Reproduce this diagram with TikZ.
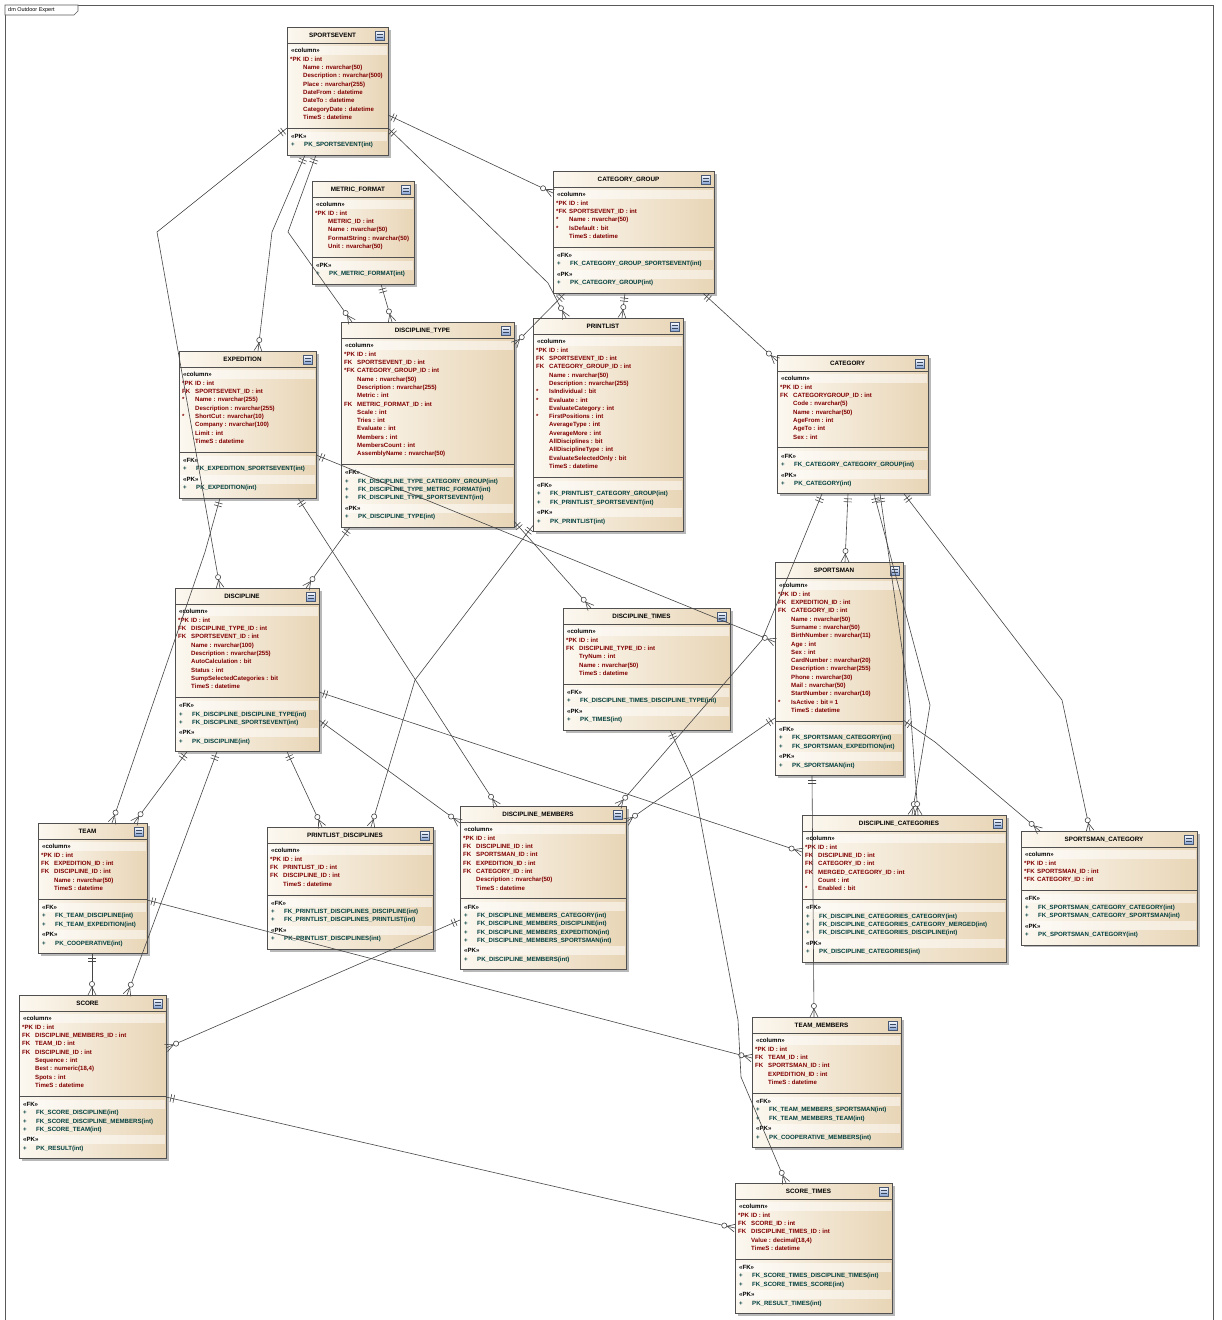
\documentclass[tikz,border=0pt]{standalone}
\usepackage{fontspec}
\setmainfont{Liberation Sans}
\usetikzlibrary{calc}

\definecolor{boxL}{RGB}{252,248,240}
\definecolor{boxR}{RGB}{232,213,182}
\definecolor{boxline}{RGB}{80,80,80}
\definecolor{coltext}{RGB}{128,0,0}
\definecolor{keytext}{RGB}{0,62,62}
\definecolor{relline}{RGB}{70,70,70}
\definecolor{iconB}{RGB}{130,160,210}

\tikzset{
  erbox/.style={rectangle, draw=boxline, line width=0.8pt, left color=boxL, right color=boxR, inner sep=0pt, outer sep=0pt},
  ershadow/.style={fill=black!28},
  erband/.style={fill=white, fill opacity=0.5},
  erline/.style={draw=boxline, line width=0.8pt},
  ertitle/.style={font=\fontsize{6.3}{7}\selectfont\bfseries, text=black, inner sep=0pt},
  erstereo/.style={font=\fontsize{6.1}{7}\selectfont\bfseries, text=black, anchor=base west, inner sep=0pt},
  ercol/.style={font=\fontsize{6.1}{7}\selectfont\bfseries, text=coltext, anchor=base west, inner sep=0pt},
  erkey/.style={font=\fontsize{6.1}{7}\selectfont\bfseries, text=keytext, anchor=base west, inner sep=0pt},
  ericon/.style={rectangle, draw=iconB!55!black, line width=0.4pt, top color=white, bottom color=iconB, minimum size=9pt, inner sep=0pt},
  rel/.style={draw=relline, line width=0.6pt},
  framel/.style={draw=black!65, line width=0.6pt},
  lbltext/.style={font=\fontsize{5.5}{6}\selectfont, text=black, inner sep=0pt},
}

% One table: #1 name, #2 x, #3 y, #4 width, #5 title,
% #6 columns {prefix}/{text}, #7 foreign keys, #8 primary keys
\newcommand\ertable[8]{%
  \def\erx{#2}\def\ery{#3}\def\erw{#4}%
  \gdef\erncol{0}%
  \foreach \erq in {#6}{\xdef\erncol{\the\numexpr\erncol+1\relax}}%
  \gdef\ernfk{0}%
  \def\erfk{#7}%
  \ifx\erfk\empty\else
    \foreach \erq in {#7}{\xdef\ernfk{\the\numexpr\ernfk+1\relax}}%
  \fi
  \pgfmathsetmacro\ersep{\ery+32+(\erncol-1)*8.3+11}%
  \ifnum\ernfk>0\relax
    \pgfmathsetmacro\erpk{\ersep+16.5+(\ernfk-1)*8.3+10.5}%
  \else
    \pgfmathsetmacro\erpk{\ersep+8}%
  \fi
  \pgfmathsetmacro\erh{\erpk+19-\ery}%
  \fill[ershadow] (\erx+2.5,\ery+2.5) rectangle ++(\erw,\erh);
  \node[erbox, minimum width=\erw pt, minimum height=\erh pt, anchor=north west] (#1) at (\erx,\ery) {};
  % header
  \draw[erline] (\erx,\ery+16) -- ++(\erw,0);
  \node[ertitle] (#1-t) at (\erx+\erw/2-5,\ery+8.5) {#5};
  \node[ericon] (#1-i) at (\erx+\erw-8,\ery+8.5) {};
  \draw[iconB!45!black, line width=0.3pt] (\erx+\erw-11,\ery+7) -- ++(6,0) (\erx+\erw-11,\ery+10) -- ++(6,0);
  % columns
  \fill[erband] (\erx+1,\ery+18.5) rectangle (\erx+\erw-1,\ery+27.5);
  \node[erstereo] (#1-s1) at (\erx+4,\ery+25.2) {«column»};
  \foreach \erp/\ern [count=\eri] in {#6}{%
    \pgfmathsetmacro\eryy{\ery+32+(\eri-1)*8.3+2.2}%
    \node[ercol] (#1-p\eri) at (\erx+3,\eryy) {\erp};
    \node[ercol] (#1-c\eri) at (\erx+16,\eryy) {\ern};
  }
  \draw[erline] (\erx,\ersep) -- ++(\erw,0);
  % foreign keys
  \ifnum\ernfk>0\relax
    \fill[erband] (\erx+1,\ersep+3.5) rectangle (\erx+\erw-1,\ersep+12.5);
    \node[erstereo] (#1-s2) at (\erx+4,\ersep+10.2) {«FK»};
    \foreach \ern [count=\eri] in {#7}{%
      \pgfmathsetmacro\eryy{\ersep+16.5+(\eri-1)*8.3+2.2}%
      \node[erkey] (#1-fp\eri) at (\erx+4,\eryy) {+};
      \node[erkey] (#1-f\eri) at (\erx+17,\eryy) {\ern};
    }
  \fi
  % primary key
  \fill[erband] (\erx+1,\erpk-4.5) rectangle (\erx+\erw-1,\erpk+4.5);
  \node[erstereo] (#1-s3) at (\erx+4,\erpk+2.2) {«PK»};
  \foreach \ern [count=\eri] in {#8}{%
    \pgfmathsetmacro\eryy{\erpk+8.5+(\eri-1)*8.3+2.2}%
    \node[erkey] (#1-kp\eri) at (\erx+4,\eryy) {+};
    \node[erkey] (#1-k\eri) at (\erx+17,\eryy) {\ern};
  }
}

% "one and only one" end: two bars across the line
\newcommand\onemk[2]{%
  \coordinate (mkA) at ($(#1)!5pt!(#2)$);
  \coordinate (mkB) at ($(#1)!8pt!(#2)$);
  \draw[rel] ($(mkA)!4pt!90:(#2)$) -- ($(mkA)!4pt!-90:(#2)$);
  \draw[rel] ($(mkB)!4pt!90:(#2)$) -- ($(mkB)!4pt!-90:(#2)$);
}
% "zero or many" end: crow's foot and ring
\newcommand\manymk[2]{%
  \coordinate (mkC) at ($(#1)!8pt!(#2)$);
  \draw[rel] (mkC) -- ($(#1)!4pt!90:(#2)$);
  \draw[rel] (mkC) -- ($(#1)!4pt!-90:(#2)$);
  \draw[rel, fill=white] ($(#1)!11pt!(#2)$) circle[radius=2.6pt];
}

\begin{document}
\catcode`\_=12
\begin{tikzpicture}[x=1pt,y=-1pt]
\useasboundingbox (0,0) rectangle (1221,1320);
\fill[white] (0,0) rectangle (1221,1320);

% diagram frame
\draw[framel] (5,1320) -- (5,5) -- (1213,5) -- (1213,1320);
\draw[framel, fill=white] (5,5) -- (78,5) -- (78,11) -- (74,15) -- (5,15) -- cycle;
\node[lbltext, anchor=west] (lbl) at (8,10.5) {dm Outdoor Expert};

% tables
\ertable{se}{287}{27}{101}{SPORTSEVENT}
{{*PK}/{ID : int}, {}/{Name : nvarchar(50)}, {}/{Description : nvarchar(500)}, {}/{Place : nvarchar(255)}, {}/{DateFrom : datetime}, {}/{DateTo : datetime}, {}/{CategoryDate : datetime}, {}/{TimeS : datetime}}
{}
{PK_SPORTSEVENT(int)}
\ertable{mf}{312}{181}{102}{METRIC_FORMAT}
{{*PK}/{ID : int}, {}/{METRIC_ID : int}, {}/{Name : nvarchar(50)}, {}/{FormatString : nvarchar(50)}, {}/{Unit : nvarchar(50)}}
{}
{PK_METRIC_FORMAT(int)}
\ertable{cg}{553}{171}{161}{CATEGORY_GROUP}
{{*PK}/{ID : int}, {*FK}/{SPORTSEVENT_ID : int}, {*}/{Name : nvarchar(50)}, {*}/{IsDefault : bit}, {}/{TimeS : datetime}}
{FK_CATEGORY_GROUP_SPORTSEVENT(int)}
{PK_CATEGORY_GROUP(int)}
\ertable{dt}{341}{322}{173}{DISCIPLINE_TYPE}
{{*PK}/{ID : int}, {FK}/{SPORTSEVENT_ID : int}, {*FK}/{CATEGORY_GROUP_ID : int}, {}/{Name : nvarchar(50)}, {}/{Description : nvarchar(255)}, {}/{Metric : int}, {FK}/{METRIC_FORMAT_ID : int}, {}/{Scale : int}, {}/{Tries : int}, {}/{Evaluate : int}, {}/{Members : int}, {}/{MembersCount : int}, {}/{AssemblyName : nvarchar(50)}}
{FK_DISCIPLINE_TYPE_CATEGORY_GROUP(int), FK_DISCIPLINE_TYPE_METRIC_FORMAT(int), FK_DISCIPLINE_TYPE_SPORTSEVENT(int)}
{PK_DISCIPLINE_TYPE(int)}
\ertable{pl}{533}{318}{150}{PRINTLIST}
{{*PK}/{ID : int}, {FK}/{SPORTSEVENT_ID : int}, {FK}/{CATEGORY_GROUP_ID : int}, {}/{Name : nvarchar(50)}, {}/{Description : nvarchar(255)}, {*}/{IsIndividual : bit}, {*}/{Evaluate : int}, {}/{EvaluateCategory : int}, {*}/{FirstPositions : int}, {}/{AverageType : int}, {}/{AverageMore : int}, {}/{AllDisciplines : bit}, {}/{AllDisciplineType : int}, {}/{EvaluateSelectedOnly : bit}, {}/{TimeS : datetime}}
{FK_PRINTLIST_CATEGORY_GROUP(int), FK_PRINTLIST_SPORTSEVENT(int)}
{PK_PRINTLIST(int)}
\ertable{ex}{179}{351}{137}{EXPEDITION}
{{*PK}/{ID : int}, {FK}/{SPORTSEVENT_ID : int}, {*}/{Name : nvarchar(255)}, {}/{Description : nvarchar(255)}, {*}/{ShortCut : nvarchar(10)}, {}/{Company : nvarchar(100)}, {}/{Limit : int}, {}/{TimeS : datetime}}
{FK_EXPEDITION_SPORTSEVENT(int)}
{PK_EXPEDITION(int)}
\ertable{cat}{777}{355}{151}{CATEGORY}
{{*PK}/{ID : int}, {FK}/{CATEGORYGROUP_ID : int}, {}/{Code : nvarchar(5)}, {}/{Name : nvarchar(50)}, {}/{AgeFrom : int}, {}/{AgeTo : int}, {}/{Sex : int}}
{FK_CATEGORY_CATEGORY_GROUP(int)}
{PK_CATEGORY(int)}
\ertable{di}{175}{588}{144}{DISCIPLINE}
{{*PK}/{ID : int}, {FK}/{DISCIPLINE_TYPE_ID : int}, {FK}/{SPORTSEVENT_ID : int}, {}/{Name : nvarchar(100)}, {}/{Description : nvarchar(255)}, {}/{AutoCalculation : bit}, {}/{Status : int}, {}/{SumpSelectedCategories : bit}, {}/{TimeS : datetime}}
{FK_DISCIPLINE_DISCIPLINE_TYPE(int), FK_DISCIPLINE_SPORTSEVENT(int)}
{PK_DISCIPLINE(int)}
\ertable{dti}{563}{608}{167}{DISCIPLINE_TIMES}
{{*PK}/{ID : int}, {FK}/{DISCIPLINE_TYPE_ID : int}, {}/{TryNum : int}, {}/{Name : nvarchar(50)}, {}/{TimeS : datetime}}
{FK_DISCIPLINE_TIMES_DISCIPLINE_TYPE(int)}
{PK_TIMES(int)}
\ertable{sm}{775}{562}{128}{SPORTSMAN}
{{*PK}/{ID : int}, {FK}/{EXPEDITION_ID : int}, {FK}/{CATEGORY_ID : int}, {}/{Name : nvarchar(50)}, {}/{Surname : nvarchar(50)}, {}/{BirthNumber : nvarchar(11)}, {}/{Age : int}, {}/{Sex : int}, {}/{CardNumber : nvarchar(20)}, {}/{Description : nvarchar(255)}, {}/{Phone : nvarchar(30)}, {}/{Mail : nvarchar(50)}, {}/{StartNumber : nvarchar(10)}, {*}/{IsActive : bit = 1}, {}/{TimeS : datetime}}
{FK_SPORTSMAN_CATEGORY(int), FK_SPORTSMAN_EXPEDITION(int)}
{PK_SPORTSMAN(int)}
\ertable{tm}{38}{823}{109}{TEAM}
{{*PK}/{ID : int}, {FK}/{EXPEDITION_ID : int}, {FK}/{DISCIPLINE_ID : int}, {}/{Name : nvarchar(50)}, {}/{TimeS : datetime}}
{FK_TEAM_DISCIPLINE(int), FK_TEAM_EXPEDITION(int)}
{PK_COOPERATIVE(int)}
\ertable{pd}{267}{827}{166}{PRINTLIST_DISCIPLINES}
{{*PK}/{ID : int}, {FK}/{PRINTLIST_ID : int}, {FK}/{DISCIPLINE_ID : int}, {}/{TimeS : datetime}}
{FK_PRINTLIST_DISCIPLINES_DISCIPLINE(int), FK_PRINTLIST_DISCIPLINES_PRINTLIST(int)}
{PK_PRINTLIST_DISCIPLINES(int)}
\ertable{dm}{460}{806}{166}{DISCIPLINE_MEMBERS}
{{*PK}/{ID : int}, {FK}/{DISCIPLINE_ID : int}, {FK}/{SPORTSMAN_ID : int}, {FK}/{EXPEDITION_ID : int}, {FK}/{CATEGORY_ID : int}, {}/{Description : nvarchar(50)}, {}/{TimeS : datetime}}
{FK_DISCIPLINE_MEMBERS_CATEGORY(int), FK_DISCIPLINE_MEMBERS_DISCIPLINE(int), FK_DISCIPLINE_MEMBERS_EXPEDITION(int), FK_DISCIPLINE_MEMBERS_SPORTSMAN(int)}
{PK_DISCIPLINE_MEMBERS(int)}
\ertable{dc}{802}{815}{204}{DISCIPLINE_CATEGORIES}
{{*PK}/{ID : int}, {FK}/{DISCIPLINE_ID : int}, {FK}/{CATEGORY_ID : int}, {FK}/{MERGED_CATEGORY_ID : int}, {}/{Count : int}, {*}/{Enabled : bit}}
{FK_DISCIPLINE_CATEGORIES_CATEGORY(int), FK_DISCIPLINE_CATEGORIES_CATEGORY_MERGED(int), FK_DISCIPLINE_CATEGORIES_DISCIPLINE(int)}
{PK_DISCIPLINE_CATEGORIES(int)}
\ertable{spc}{1021}{831}{176}{SPORTSMAN_CATEGORY}
{{*PK}/{ID : int}, {*FK}/{SPORTSMAN_ID : int}, {*FK}/{CATEGORY_ID : int}}
{FK_SPORTSMAN_CATEGORY_CATEGORY(int), FK_SPORTSMAN_CATEGORY_SPORTSMAN(int)}
{PK_SPORTSMAN_CATEGORY(int)}
\ertable{sc}{19}{995}{147}{SCORE}
{{*PK}/{ID : int}, {FK}/{DISCIPLINE_MEMBERS_ID : int}, {FK}/{TEAM_ID : int}, {FK}/{DISCIPLINE_ID : int}, {}/{Sequence : int}, {}/{Best : numeric(18,4)}, {}/{Spots : int}, {}/{TimeS : datetime}}
{FK_SCORE_DISCIPLINE(int), FK_SCORE_DISCIPLINE_MEMBERS(int), FK_SCORE_TEAM(int)}
{PK_RESULT(int)}
\ertable{tmb}{752}{1017}{149}{TEAM_MEMBERS}
{{*PK}/{ID : int}, {FK}/{TEAM_ID : int}, {FK}/{SPORTSMAN_ID : int}, {}/{EXPEDITION_ID : int}, {}/{TimeS : datetime}}
{FK_TEAM_MEMBERS_SPORTSMAN(int), FK_TEAM_MEMBERS_TEAM(int)}
{PK_COOPERATIVE_MEMBERS(int)}
\ertable{st}{735}{1183}{157}{SCORE_TIMES}
{{*PK}/{ID : int}, {FK}/{SCORE_ID : int}, {FK}/{DISCIPLINE_TIMES_ID : int}, {}/{Value : decimal(18,4)}, {}/{TimeS : datetime}}
{FK_SCORE_TIMES_DISCIPLINE_TIMES(int), FK_SCORE_TIMES_SCORE(int)}
{PK_RESULT_TIMES(int)}

% relationships: parent end (a), bends, child end (z)
\coordinate (a1) at ($(se.north west)+(0,101)$);
\coordinate (b1) at (157,232);
\coordinate (z1) at ($(di.north west)+(45,0)$);
\draw[rel] (a1) -- (b1) -- (z1); \onemk{a1}{b1} \manymk{z1}{b1}

\coordinate (a2) at ($(se.south west)+(18,0)$);
\coordinate (b2) at (272,232);
\coordinate (z2) at ($(ex.north west)+(79,0)$);
\draw[rel] (a2) -- (b2) -- (z2); \onemk{a2}{b2} \manymk{z2}{b2}

\coordinate (a3) at ($(se.south west)+(29,0)$);
\coordinate (b3) at (288,232);
\coordinate (z3) at ($(dt.north west)+(11,0)$);
\draw[rel] (a3) -- (b3) -- (z3); \onemk{a3}{b3} \manymk{z3}{b3}

\coordinate (a4) at ($(se.north east)+(0,88)$);
\coordinate (z4) at ($(cg.north west)+(0,22)$);
\draw[rel] (a4) -- (z4); \onemk{a4}{z4} \manymk{z4}{a4}

\coordinate (a5) at ($(se.north east)+(0,101)$);
\coordinate (b5) at (548,283);
\coordinate (z5) at ($(pl.north west)+(33,0)$);
\draw[rel] (a5) -- (b5) -- (z5); \onemk{a5}{b5} \manymk{z5}{b5}

\coordinate (a6) at ($(mf.south west)+(69,0)$);
\coordinate (z6) at ($(dt.north west)+(51,0)$);
\draw[rel] (a6) -- (z6); \onemk{a6}{z6} \manymk{z6}{a6}

\coordinate (a7) at ($(cg.south west)+(12,0)$);
\coordinate (z7) at ($(dt.north east)+(0,23)$);
\draw[rel] (a7) -- (z7); \onemk{a7}{z7} \manymk{z7}{a7}

\coordinate (a8) at ($(cg.south west)+(72,0)$);
\coordinate (z8) at ($(pl.north west)+(89,0)$);
\draw[rel] (a8) -- (z8); \onemk{a8}{z8} \manymk{z8}{a8}

\coordinate (a9) at ($(cg.south west)+(150,0)$);
\coordinate (z9) at ($(cat.north west)+(0,6)$);
\draw[rel] (a9) -- (z9); \onemk{a9}{z9} \manymk{z9}{a9}

\coordinate (a10) at ($(ex.south west)+(41,0)$);
\coordinate (b10) at (205,552);
\coordinate (z10) at ($(tm.north west)+(74,0)$);
\draw[rel] (a10) -- (b10) -- (z10); \onemk{a10}{b10} \manymk{z10}{b10}

\coordinate (a11) at ($(ex.south west)+(119,0)$);
\coordinate (z11) at ($(dm.north west)+(37,0)$);
\draw[rel] (a11) -- (z11); \onemk{a11}{z11} \manymk{z11}{a11}

\coordinate (a12) at ($(ex.north east)+(0,104)$);
\coordinate (z12) at ($(sm.north west)+(0,80)$);
\draw[rel] (a12) -- (z12); \onemk{a12}{z12} \manymk{z12}{a12}

\coordinate (a13) at ($(dt.south west)+(9,0)$);
\coordinate (z13) at ($(di.north west)+(131,0)$);
\draw[rel] (a13) -- (z13); \onemk{a13}{z13} \manymk{z13}{a13}

\coordinate (a14) at ($(dt.south east)+(0,-6)$);
\coordinate (z14) at ($(dti.north west)+(28,0)$);
\draw[rel] (a14) -- (z14); \onemk{a14}{z14} \manymk{z14}{a14}

\coordinate (a15) at ($(pl.south west)+(0,-6)$);
\coordinate (b15) at (415,680);
\coordinate (z15) at ($(pd.north west)+(104,0)$);
\draw[rel] (a15) -- (b15) -- (z15); \onemk{a15}{b15} \manymk{z15}{b15}

\coordinate (a16) at ($(cat.south west)+(45,0)$);
\coordinate (b16) at (762,640);
\coordinate (z16) at ($(dm.north west)+(158,0)$);
\draw[rel] (a16) -- (b16) -- (z16); \onemk{a16}{b16} \manymk{z16}{b16}

\coordinate (a17) at ($(cat.south west)+(71,0)$);
\coordinate (z17) at ($(sm.north west)+(70,0)$);
\draw[rel] (a17) -- (z17); \onemk{a17}{z17} \manymk{z17}{a17}

\coordinate (a18) at ($(cat.south west)+(97,0)$);
\coordinate (b18) at (930,705);
\coordinate (z18) at ($(dc.north west)+(110,0)$);
\draw[rel] (a18) -- (b18) -- (z18); \onemk{a18}{b18} \manymk{z18}{b18}

\coordinate (a19) at ($(cat.south west)+(103,0)$);
\coordinate (b19) at (910,705);
\coordinate (z19) at ($(dc.north west)+(116,0)$);
\draw[rel] (a19) -- (b19) -- (z19); \onemk{a19}{b19} \manymk{z19}{b19}

\coordinate (a20) at ($(cat.south west)+(127,0)$);
\coordinate (b20) at (1062,700);
\coordinate (z20) at ($(spc.north west)+(69,0)$);
\draw[rel] (a20) -- (b20) -- (z20); \onemk{a20}{b20} \manymk{z20}{b20}

\coordinate (a21) at ($(sm.north east)+(0,158)$);
\coordinate (b21) at (935,742);
\coordinate (z21) at ($(spc.north west)+(19,0)$);
\draw[rel] (a21) -- (b21) -- (z21); \onemk{a21}{b21} \manymk{z21}{b21}

\coordinate (a22) at ($(sm.south west)+(37,0)$);
\coordinate (z22) at ($(tmb.north west)+(62,0)$);
\draw[rel] (a22) -- (z22); \onemk{a22}{z22} \manymk{z22}{a22}

\coordinate (a23) at ($(sm.north west)+(0,156)$);
\coordinate (z23) at ($(dm.north east)+(0,16)$);
\draw[rel] (a23) -- (z23); \onemk{a23}{z23} \manymk{z23}{a23}

\coordinate (a24) at ($(di.south west)+(12,0)$);
\coordinate (z24) at ($(tm.north west)+(96,0)$);
\draw[rel] (a24) -- (z24); \onemk{a24}{z24} \manymk{z24}{a24}

\coordinate (a25) at ($(di.south west)+(42,0)$);
\coordinate (z25) at ($(sc.north west)+(108,0)$);
\draw[rel] (a25) -- (z25); \onemk{a25}{z25} \manymk{z25}{a25}

\coordinate (a26) at ($(di.south west)+(112,0)$);
\coordinate (z26) at ($(pd.north west)+(55,0)$);
\draw[rel] (a26) -- (z26); \onemk{a26}{z26} \manymk{z26}{a26}

\coordinate (a27) at ($(di.north east)+(0,104)$);
\coordinate (z27) at ($(dc.north west)+(0,37)$);
\draw[rel] (a27) -- (z27); \onemk{a27}{z27} \manymk{z27}{a27}

\coordinate (a28) at ($(di.north east)+(0,132)$);
\coordinate (z28) at ($(dm.north west)+(0,17)$);
\draw[rel] (a28) -- (z28); \onemk{a28}{z28} \manymk{z28}{a28}

\coordinate (a29) at ($(tm.south west)+(54,0)$);
\coordinate (z29) at ($(sc.north west)+(73,0)$);
\draw[rel] (a29) -- (z29); \onemk{a29}{z29} \manymk{z29}{a29}

\coordinate (a30) at ($(tm.north east)+(0,77)$);
\coordinate (z30) at ($(tmb.north west)+(0,41)$);
\draw[rel] (a30) -- (z30); \onemk{a30}{z30} \manymk{z30}{a30}

\coordinate (a31) at ($(dm.north west)+(0,114)$);
\coordinate (z31) at ($(sc.north east)+(0,53)$);
\draw[rel] (a31) -- (z31); \onemk{a31}{z31} \manymk{z31}{a31}

\coordinate (a32) at ($(sc.north east)+(0,102)$);
\coordinate (z32) at ($(st.north west)+(0,45)$);
\draw[rel] (a32) -- (z32); \onemk{a32}{z32} \manymk{z32}{a32}

\coordinate (a33) at ($(dti.south west)+(107,0)$);
\coordinate (b33) at (693,780);
\coordinate (c33) at (738,1020);
\coordinate (d33) at (741,1077);
\coordinate (z33) at ($(st.north west)+(51,0)$);
\draw[rel] (a33) -- (b33) -- (c33) -- (d33) -- (z33); \onemk{a33}{b33} \manymk{z33}{d33}

\end{tikzpicture}
\end{document}
